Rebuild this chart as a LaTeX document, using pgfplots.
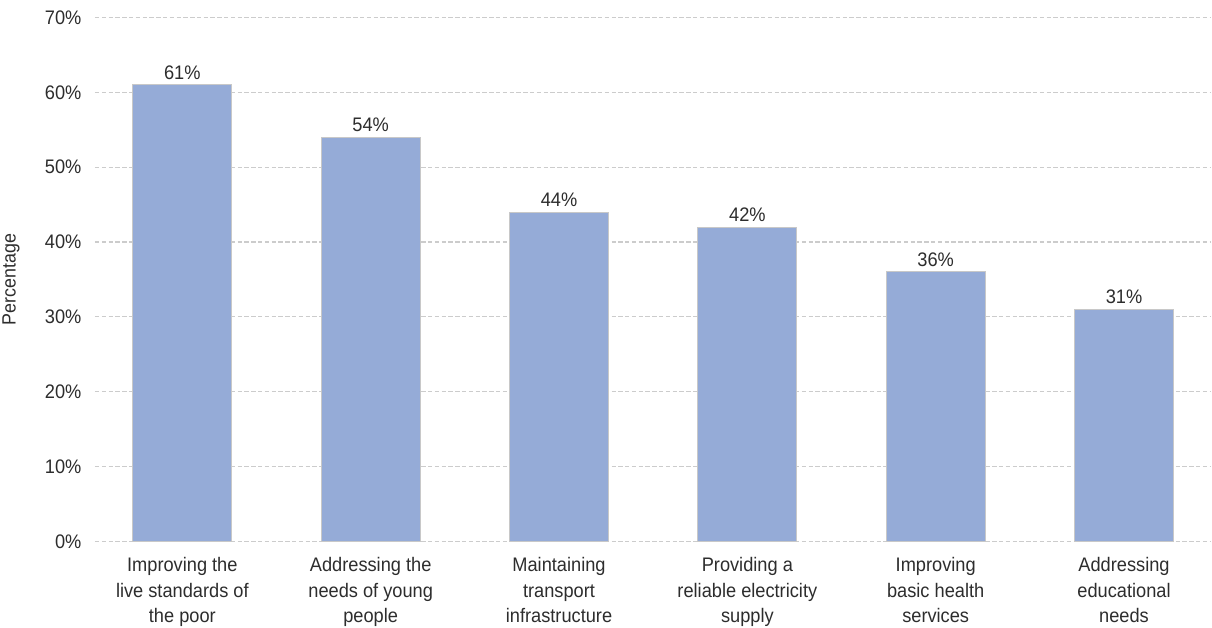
\documentclass[border=0pt]{standalone}
\usepackage{fontspec}
\setmainfont{Liberation Sans}[FakeStretch=0.93]
\usepackage{pgfplots}
\pgfplotsset{compat=1.18}
\definecolor{barfill}{RGB}{149,171,215}
\definecolor{barline}{RGB}{200,200,200}
\definecolor{txt}{RGB}{45,45,45}
\definecolor{gridc}{RGB}{204,204,204}
\begin{document}
\begin{tikzpicture}
\path (0,0) rectangle (606pt,314pt);
\begin{axis}[
  at={(47.5pt,43.15pt)}, anchor=south west,
  scale only axis, width=558.5pt, height=262.1pt,
  xmin=-0.464, xmax=5.464, ymin=0, ymax=70,
  axis line style={draw=none},
  tick style={draw=none},
  ytick={0,10,...,70},
  xtick={0,1,2,3,4,5},
  xticklabels={{Improving the\\live standards of\\the poor},
               {Addressing the\\needs of young\\people},
               {Maintaining\\transport\\infrastructure},
               {Providing a\\reliable electricity\\supply},
               {Improving\\basic health\\services},
               {Addressing\\educational\\needs}},
  ymajorgrids,
  grid style={gridc, line width=0.6pt, dash pattern=on 2.2pt off 1.2pt},
  major tick length=0pt,
  yticklabel={\pgfmathprintnumber[assume math mode=true]{\tick}\%},
  yticklabel style={font=\fontsize{9.8}{11}\selectfont, text=txt, inner sep=0pt, anchor=east, xshift=-6.6pt},
  xticklabel style={font=\fontsize{9.8}{12.85}\selectfont, text=txt, align=center, inner sep=0pt, anchor=north, yshift=-7.7pt},
  ylabel={Percentage},
  ylabel style={font=\fontsize{9.6}{11}\selectfont, text=txt, inner sep=0pt, at={(axis description cs:-0.0752,0.5)}, anchor=center},
  ybar, bar width=49.5pt,
  nodes near coords={\pgfmathprintnumber[assume math mode=true]{\pgfplotspointmeta}\%},
  every node near coord/.append style={font=\fontsize{9.8}{11}\selectfont, text=txt, anchor=south, inner sep=0pt, yshift=2.4pt},
  clip=false,
]
\addplot[fill=barfill, draw=barline, line width=0.5pt] coordinates {
  (0,61) (1,54) (2,44) (3,42) (4,36) (5,31)
};
\end{axis}
\end{tikzpicture}
\end{document}
